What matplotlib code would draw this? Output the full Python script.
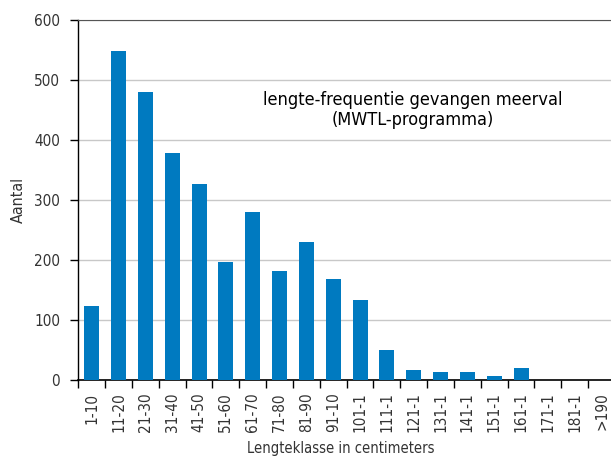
import numpy as np
import matplotlib.pyplot as plt

# condensed look like the reference
plt.rcParams['font.family'] = ['DejaVu Sans']
plt.rcParams['font.stretch'] = 'condensed'

# data
klassen = ["1-10", "11-20", "21-30", "31-40", "41-50", "51-60", "61-70", "71-80",
           "81-90", "91-10", "101-1", "111-1", "121-1", "131-1", "141-1", "151-1",
           "161-1", "171-1", "181-1", ">190"]
aantal = [123, 548, 480, 378, 327, 197, 280, 182, 230, 168, 133,
          50, 16, 13, 13, 6, 20, 0, 0, 0]
kleur = "#007ac0"
tekst = "#333333"

fig = plt.figure(figsize=(6.11, 4.57), dpi=100)
ax = fig.add_axes([78.3 / 611, 77 / 457, (615 - 78.3) / 611, 360 / 457])

x = np.arange(len(klassen))
ax.bar(x, aantal, width=0.56, color=kleur, zorder=3)

ax.set_xlim(-0.5, len(klassen) - 0.5)
ax.set_ylim(0, 600)
ax.set_yticks(np.arange(0, 601, 100))
ax.yaxis.grid(True, color="#c8c8c8", linewidth=1, zorder=0)
ax.tick_params(axis="y", direction="out", length=6, labelsize=11, width=1,
               pad=7, labelcolor=tekst)

# labels at centres, tick marks at boundaries
ax.set_xticks(x)
ax.set_xticklabels(klassen, rotation=90, fontsize=11, color=tekst)
ax.tick_params(axis="x", which="major", length=0, pad=9)
ax.set_xticks(np.arange(-0.5, len(klassen)), minor=True)
ax.tick_params(axis="x", which="minor", direction="out", length=6, width=1)

ax.spines["right"].set_visible(False)
ax.spines["top"].set_color("#555555")
ax.spines["left"].set_linewidth(1)
ax.spines["bottom"].set_linewidth(1.2)

ax.set_ylabel("Aantal", fontsize=11.5, labelpad=6, color=tekst)
fig.text(341 / 611, 1 - 448 / 457, "Lengteklasse in centimeters",
         fontsize=10.5, ha="center", va="center", color=tekst)

ax.text(11.95, 450, "lengte-frequentie gevangen meerval\n(MWTL-programma)",
        ha="center", va="center", fontsize=13, linespacing=1.2, zorder=4)

plt.savefig("out.png", dpi=100)
